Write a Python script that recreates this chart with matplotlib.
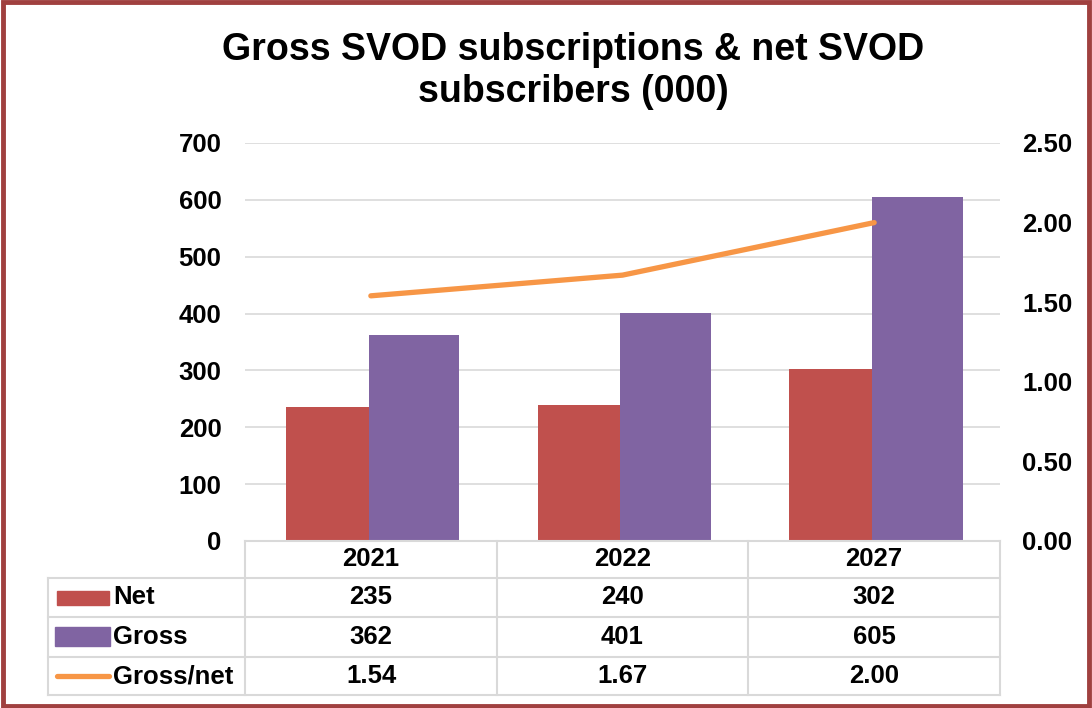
import numpy as np
import matplotlib.pyplot as plt
from matplotlib.patches import Rectangle
from matplotlib.lines import Line2D

plt.rcParams["font.family"] = ["Liberation Sans", "DejaVu Sans"]
plt.rcParams["font.weight"] = "bold"

# data
years = ["2021", "2022", "2027"]
net = [235, 240, 302]
gross = [362, 401, 605]
ratio = [1.54, 1.67, 2.00]
row_labels = ["Net", "Gross", "Gross/net"]

c_net = "#C0504D"
c_gross = "#8064A2"
c_line = "#F79646"
c_grid = "#D9D9D9"

W, H = 1092, 708
fig = plt.figure(figsize=(W / 100, H / 100), dpi=100)


def fx(x):
    return x / W


def fy(y):
    return 1 - y / H


# plot area
ax = fig.add_axes([fx(245), fy(541), fx(1000) - fx(245), fy(143) - fy(541)])
x = np.arange(len(years))
ax.bar(x - 0.172, net, width=0.33, color=c_net, zorder=2)
ax.bar(x + 0.172, gross, width=0.36, color=c_gross, zorder=2)
ax.set_xlim(-0.5, len(years) - 0.5)
ax.set_ylim(0, 700)
ax.set_yticks(np.arange(0, 701, 100))
ax.set_xticks([])
ax.yaxis.grid(True, color=c_grid, lw=1.2, zorder=0)
ax.set_axisbelow(True)
for s in ax.spines.values():
    s.set_visible(False)
ax.tick_params(axis="y", length=0, pad=17, labelsize=18.5)

ax2 = ax.twinx()
ax2.plot(x, ratio, color=c_line, lw=3.8, solid_capstyle="round")
ax2.set_ylim(0, 2.5)
ax2.set_yticks(np.arange(0, 2.51, 0.5))
ax2.set_yticklabels([f"{v:.2f}" for v in np.arange(0, 2.51, 0.5)])
ax2.tick_params(axis="y", length=0, pad=16, labelsize=18.5)
for s in ax2.spines.values():
    s.set_visible(False)

# title
fig.text(fx(573), fy(71), "Gross SVOD subscriptions & net SVOD\nsubscribers (000)",
         ha="center", va="center", fontsize=27, fontweight="bold", linespacing=1.18)

# data table
col_edges = [245, 497, 748, 1000]
row_edges = [578, 617, 657, 695]
lw_t = 1.5
fig.add_artist(Line2D([fx(245), fx(1000)], [fy(541), fy(541)], color=c_grid, lw=lw_t))
for yy in row_edges:
    fig.add_artist(Line2D([fx(48), fx(1000)], [fy(yy), fy(yy)], color=c_grid, lw=lw_t))
for xx in col_edges:
    fig.add_artist(Line2D([fx(xx), fx(xx)], [fy(541), fy(695)], color=c_grid, lw=lw_t))
fig.add_artist(Line2D([fx(48), fx(48)], [fy(578), fy(695)], color=c_grid, lw=lw_t))

fs = 18.5
col_centers = [(col_edges[i] + col_edges[i + 1]) / 2 for i in range(3)]
for i, yr in enumerate(years):
    fig.text(fx(col_centers[i]), fy(559), yr, ha="center", va="center", fontsize=fs)
rows = [[str(v) for v in net], [str(v) for v in gross], [f"{v:.2f}" for v in ratio]]
row_centers = [597.5, 637, 676]
for r, vals in enumerate(rows):
    for i, v in enumerate(vals):
        fig.text(fx(col_centers[i]), fy(row_centers[r]), v, ha="center", va="center", fontsize=fs)
    fig.text(fx(113), fy(row_centers[r]), row_labels[r], ha="left", va="center", fontsize=fs)

# legend keys in table
fig.add_artist(Rectangle((fx(57), fy(605)), fx(109) - fx(57), fy(591) - fy(605),
                         color=c_net, transform=fig.transFigure))
fig.add_artist(Rectangle((fx(55), fy(646)), fx(110) - fx(55), fy(627) - fy(646),
                         color=c_gross, transform=fig.transFigure))
fig.add_artist(Line2D([fx(57), fx(109)], [fy(676), fy(676)], color=c_line, lw=3.8,
                      solid_capstyle="round"))

# outer border
fig.add_artist(Rectangle((fx(2.5), fy(705.5)), fx(1086), fy(2.5) - fy(705.5), fill=False,
                         ec="#A0403F", lw=3.5, transform=fig.transFigure))

fig.savefig("out.png", dpi=100)
